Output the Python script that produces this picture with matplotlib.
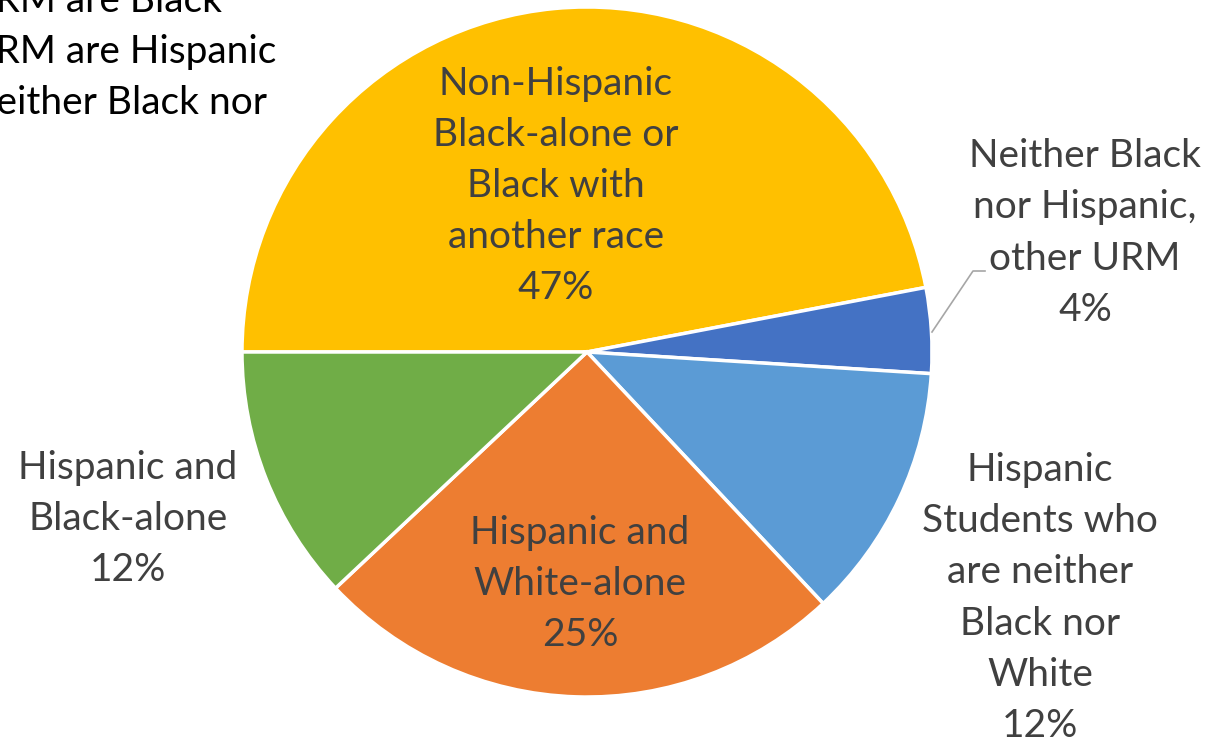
import matplotlib.pyplot as plt

# Data
labels = ["Non-Hispanic\nBlack-alone or\nBlack with\nanother race",
          "Neither Black\nnor Hispanic,\nother URM",
          "Hispanic\nStudents who\nare neither\nBlack nor\nWhite",
          "Hispanic and\nWhite-alone",
          "Hispanic and\nBlack-alone"]
shares = [47, 4, 12, 25, 12]
colors = ["#FFC000", "#4472C4", "#5B9BD5", "#ED7D31", "#70AD47"]

# label centres in pixel coords (y from top)
label_pos = [(556, 186), (1085, 233), (1040, 598), (580, 584), (128, 519)]

W, H = 1207, 744
plt.rcParams['font.family'] = ['Lato', 'DejaVu Sans']

fig = plt.figure(figsize=(W / 100, H / 100), dpi=100)
ax = fig.add_axes([0, 0, 1, 1])
ax.set_xlim(0, W)
ax.set_ylim(0, H)
ax.axis('off')

cx, cy, r = 587, H - 352, 345
ax.pie(shares, colors=colors, startangle=180, counterclock=False,
       center=(cx, cy), radius=r,
       wedgeprops=dict(edgecolor='white', linewidth=2.5))
ax.set_xlim(0, W)
ax.set_ylim(0, H)

for lab, val, (x, y) in zip(labels, shares, label_pos):
    ax.text(x, H - y, "%s\n%d%%" % (lab, val), ha='center', va='center',
            fontsize=28, color='#404040', linespacing=1.52)

# leader line for the small slice
ax.plot([932, 973, 985], [H - 332, H - 271, H - 271], color='#A6A6A6', lw=1.2)

# clipped text from neighbouring element (cut off at the left edge as in the source)
ax.text(-33, H - 52, "URM are Black\nURM are Hispanic\nNeither Black nor",
        ha='left', va='center', fontsize=28, color='black', linespacing=1.52)

fig.savefig("out.png", dpi=100)
